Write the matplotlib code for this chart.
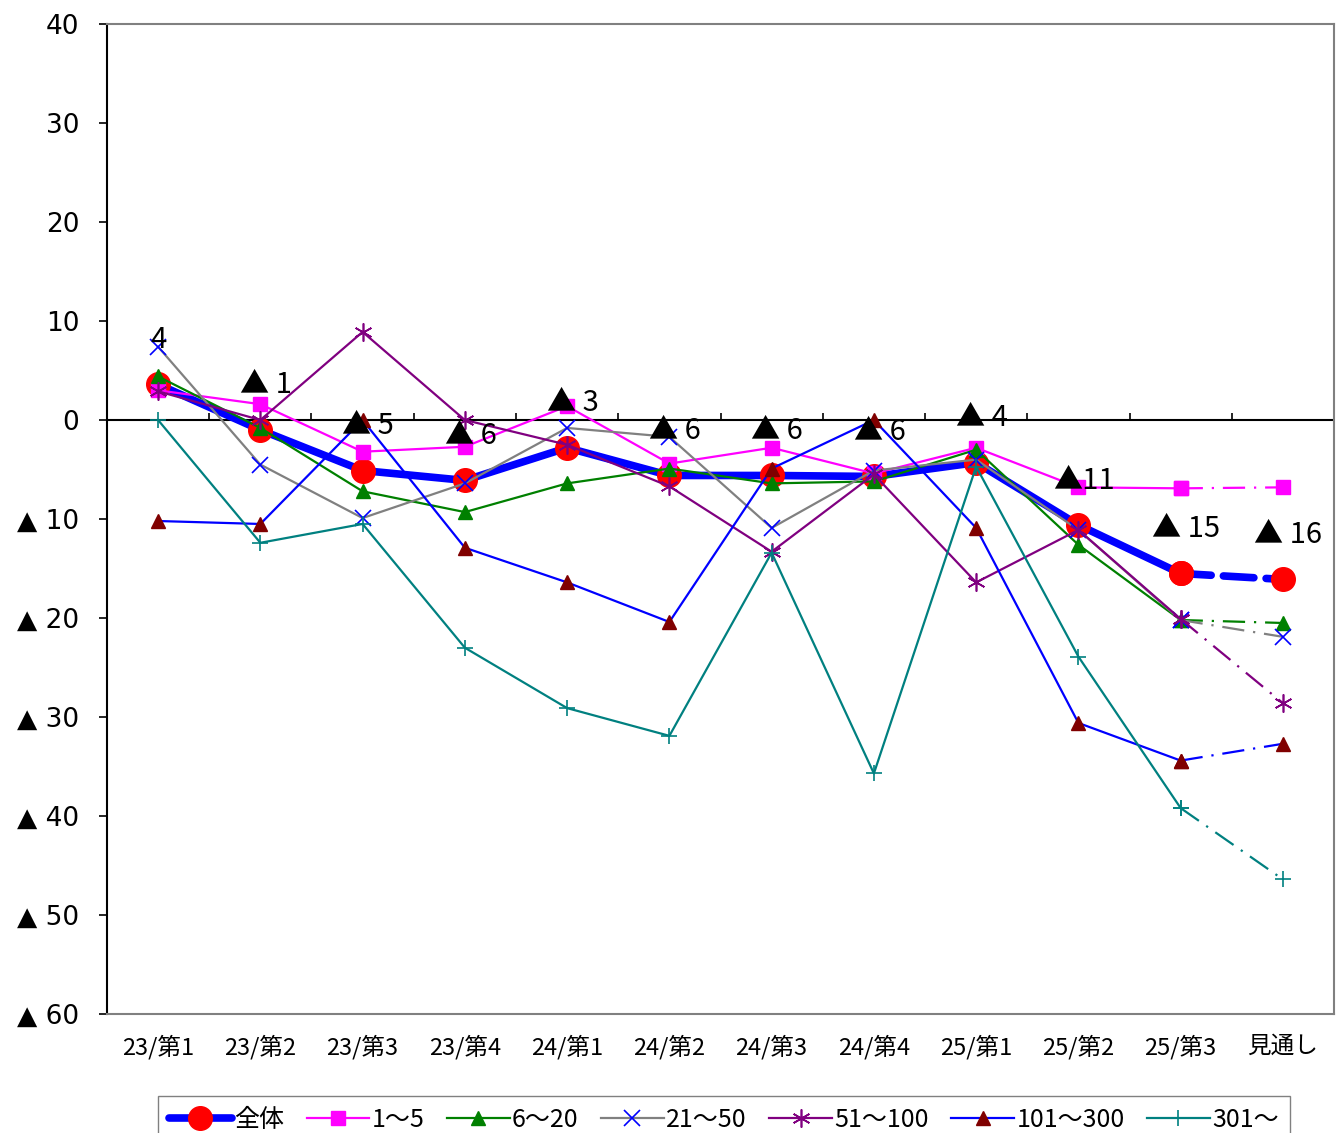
import matplotlib
matplotlib.use('Agg')
import matplotlib.pyplot as plt
import numpy as np

cats = ['23/第1', '23/第2', '23/第3', '23/第4', '24/第1', '24/第2',
        '24/第3', '24/第4', '25/第1', '25/第2', '25/第3', '見通し']

zentai = [3.6, -1.0, -5.1, -6.1, -2.8, -5.6, -5.6, -5.7, -4.3, -10.6, -15.5, -16.1]
zentai_lbl = ['4', '▲ 1', '▲ 5', '▲ 6', '▲ 3', '▲ 6', '▲ 6', '▲ 6', '▲ 4', '▲11', '▲ 15', '▲ 16']
s1_5 = [3.0, 1.6, -3.2, -2.7, 1.4, -4.4, -2.8, -5.4, -2.8, -6.8, -6.9, -6.8]
s6_20 = [4.4, -0.8, -7.2, -9.3, -6.4, -4.9, -6.4, -6.2, -3.0, -12.6, -20.2, -20.5]
s21_50 = [7.4, -4.5, -9.9, -6.4, -0.8, -1.7, -10.9, -5.1, -4.0, -11.1, -20.2, -21.9]
s51_100 = [2.9, 0.0, 8.9, 0.0, -2.5, -6.7, -13.3, -5.5, -16.4, -11.1, -20.1, -28.6]
s101_300 = [-10.2, -10.5, 0.0, -12.9, -16.4, -20.4, -4.9, 0.0, -10.9, -30.6, -34.4, -32.7]
s301 = [0.0, -12.4, -10.5, -23.0, -29.1, -31.9, -13.4, -35.7, -4.7, -23.9, -39.2, -46.4]

yticks = [40, 30, 20, 10, 0, -10, -20, -30, -40, -50, -60]

jp = ['Noto Sans CJK JP', 'DejaVu Sans']
plt.rcParams['font.family'] = jp

fig = plt.figure(figsize=(13.37, 11.33), dpi=100)
ax = fig.add_axes([0.080, 0.105, 0.9178, 0.8738])

x = np.arange(len(cats))
dashdot = (0, (10, 4, 1, 4))

series = [
    (s1_5, '1～5', dict(color='#ff00ff', marker='s', ms=10, mfc='#ff00ff', mec='#ff00ff')),
    (s6_20, '6～20', dict(color='green', marker='^', ms=10, mfc='green', mec='green')),
    (s21_50, '21～50', dict(color='gray', marker='x', ms=11, mec='blue', mew=1.2)),
    (s51_100, '51～100', dict(color='purple', marker=(6, 2, 0), ms=13, mec='purple', mew=1.2)),
    (s101_300, '101～300', dict(color='blue', marker='^', ms=10, mfc='#800000', mec='#800000')),
    (s301, '301～', dict(color='teal', marker='+', ms=12, mec='teal', mew=1.2)),
]

handles = []
# 全体
h, = ax.plot(x[:11], zentai[:11], color='blue', lw=5.5, marker='o', ms=17,
             mfc='red', mec='red', solid_capstyle='round', zorder=2, label='全体')
ax.plot(x[10:], zentai[10:], color='blue', lw=5.5, ls=(0, (4, 1.6)),
        dash_capstyle='round', marker='o', ms=17, mfc='red', mec='red', zorder=2)
handles.append(h)

for vals, name, st in series:
    h, = ax.plot(x[:11], vals[:11], lw=1.6, zorder=3, label=name, **st)
    ax.plot(x[10:], vals[10:], lw=1.6, ls=dashdot, zorder=3, **st)
    handles.append(h)

for i, (v, t) in enumerate(zip(zentai, zentai_lbl)):
    ax.annotate(t, (x[i], v), xytext=(4 if i else 0, 32), textcoords='offset points',
                ha='center', va='center', fontsize=21, family=jp, zorder=5)

# zero line with boundary ticks
ax.axhline(0, color='black', lw=1.5, zorder=1)
ax.vlines(np.arange(0.5, len(cats) - 1, 1), 0, 0.7, color='black', lw=1.2, zorder=1)

ax.set_xlim(-0.5, len(cats) - 0.5)
ax.set_ylim(-60, 40)
ax.set_yticks(yticks)
ax.set_yticklabels([str(v) if v >= 0 else '▲ ' + str(-v) for v in yticks],
                   fontsize=19, family=['DejaVu Sans'])
ax.set_xticks(x)
ax.set_xticklabels(cats, fontsize=17)
ax.tick_params(axis='x', length=0, pad=15)
ax.tick_params(axis='y', direction='out', length=6, width=1.2, pad=14)

for s in ['top', 'right', 'bottom']:
    ax.spines[s].set_color('#808080')
    ax.spines[s].set_linewidth(1.5)
ax.spines['left'].set_color('black')
ax.spines['left'].set_linewidth(1.5)

fig.legend(handles=handles, loc='upper center', bbox_to_anchor=(0.5415, 0.0327),
           ncol=7, fontsize=18, fancybox=False, edgecolor='#808080', framealpha=1,
           handlelength=2.5, handletextpad=0.1, columnspacing=0.9, borderpad=0.45,
           borderaxespad=0)

fig.savefig('out.png', dpi=100)
